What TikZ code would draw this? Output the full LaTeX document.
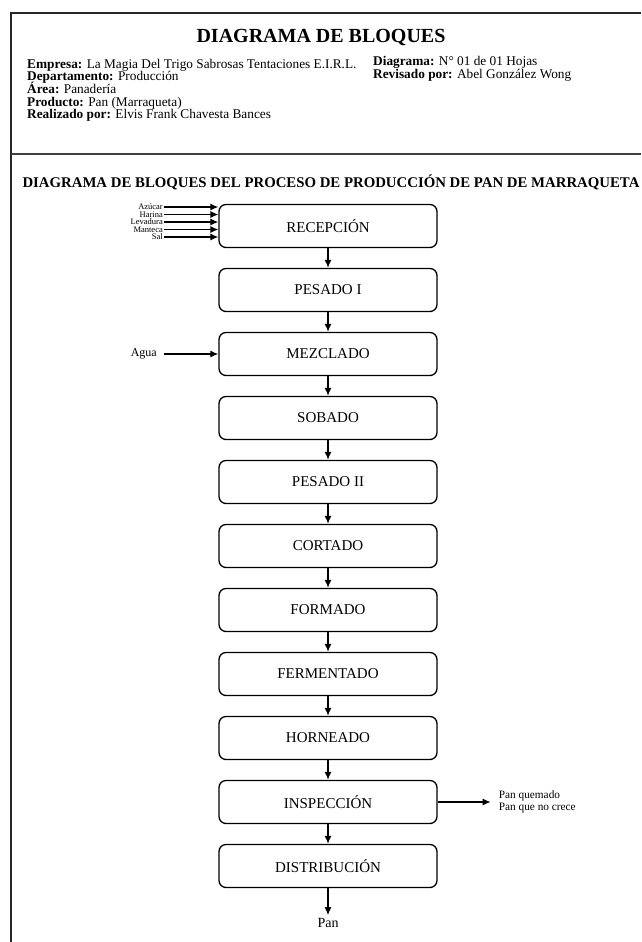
\documentclass[tikz,border=0pt]{standalone}
\usepackage{fontspec}
\setmainfont{Liberation Serif}
\usetikzlibrary{positioning,calc,arrows.meta}

\begin{document}
\begin{tikzpicture}[x=1pt, y=-1pt,
  bloque/.style={draw, line width=1.3pt, rounded corners=7pt, minimum width=218pt, minimum height=43pt, font=\fontsize{15}{16}\selectfont},
  flecha/.style={line width=1.2pt, -{Latex[length=8pt,width=7pt]}},
  insumo/.style={anchor=east, inner sep=1pt, font=\fontsize{8.5}{8.5}\selectfont},
  dato/.style={anchor=base west, inner sep=0pt, font=\fontsize{13.3}{14}\selectfont}]
  \useasboundingbox (0,0) rectangle (641,942);

  % marco de la hoja
  \draw[line width=2pt, black!85] (11,942) -- (11,13) -- (641,13);
  \draw[line width=2.5pt, black!75] (11,154) -- (641,154);

  % encabezado
  \node[font=\fontsize{20}{21}\selectfont\bfseries] (titulo) at (321,38) {DIAGRAMA DE BLOQUES};
  \node[dato] (empresa) at (27,68) {\textbf{Empresa:} La Magia Del Trigo Sabrosas Tentaciones E.I.R.L.};
  \node[dato] (depto) at (27,80.7) {\textbf{Departamento:} Producción};
  \node[dato] (area) at (27,93.4) {\textbf{Área:} Panadería};
  \node[dato] (producto) at (27,106.1) {\textbf{Producto:} Pan (Marraqueta)};
  \node[dato] (autor) at (27,118.8) {\textbf{Realizado por:} Elvis Frank Chavesta Bances};
  \node[dato] (diagrama) at (373,66) {\textbf{Diagrama:} N° 01 de 01 Hojas};
  \node[dato] (revisor) at (373,78.7) {\textbf{Revisado por:} Abel González Wong};

  \node[font=\fontsize{14.8}{15}\selectfont\bfseries] (subtitulo) at (331,182) {DIAGRAMA DE BLOQUES DEL PROCESO DE PRODUCCIÓN DE PAN DE MARRAQUETA};

  % etapas del proceso
  \foreach \nombre/\etapa [count=\i] in {recepcion/RECEPCIÓN, pesadoi/PESADO I, mezclado/MEZCLADO, sobado/SOBADO, pesadoii/PESADO II, cortado/CORTADO, formado/FORMADO, fermentado/FERMENTADO, horneado/HORNEADO, inspeccion/INSPECCIÓN, distribucion/DISTRIBUCIÓN}
    \node[bloque] (\nombre) at (328, 162+64*\i) {\etapa};

  \foreach \a/\b in {recepcion/pesadoi, pesadoi/mezclado, mezclado/sobado, sobado/pesadoii, pesadoii/cortado, cortado/formado, formado/fermentado, fermentado/horneado, horneado/inspeccion, inspeccion/distribucion}
    \draw[flecha] (\a.south) -- (\b.north);

  % insumos
  \foreach \nombre/\insumo/\y in {azucar/Azúcar/207, harina/Harina/214.5, levadura/Levadura/222, manteca/Manteca/229.5, sal/Sal/237}
  {
    \node[insumo] (\nombre) at (164,\y) {\insumo};
    \draw[flecha] (\nombre.east) -- (recepcion.west |- \nombre.east);
  }

  \node[left=58pt of mezclado, font=\fontsize{12}{12}\selectfont] (agua) {Agua};
  \draw[flecha] ([xshift=4pt]agua.east) -- (mezclado.west);

  \node[right=61pt of inspeccion, align=left, inner sep=0pt, font=\fontsize{11.3}{12.5}\selectfont] (merma) {Pan quemado\\Pan que no crece};
  \draw[flecha] (inspeccion.east) -- ([xshift=-8pt]merma.west);

  \node[below=27pt of distribucion, font=\fontsize{14}{14}\selectfont] (pan) {Pan};
  \draw[flecha] (distribucion.south) -- (pan.north);
\end{tikzpicture}
\end{document}
